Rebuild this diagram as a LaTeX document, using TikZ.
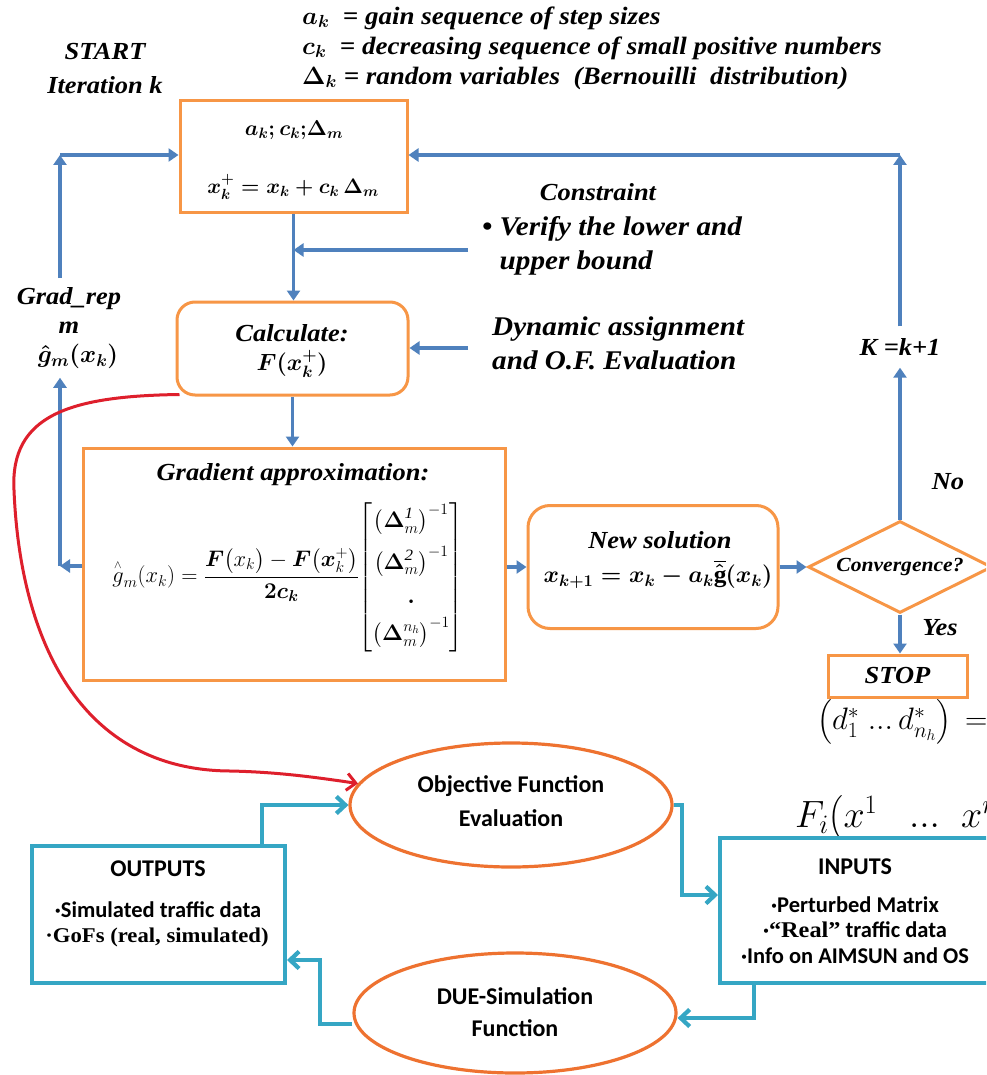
\RequirePackage{fix-cm}
\documentclass[tikz,border=0pt]{standalone}
\usepackage{amsmath,bm}
\usepackage{fontspec}
\setmainfont[FakeStretch=1.08]{Liberation Serif}
\newfontfamily\calib{Carlito}
\usetikzlibrary{arrows.meta,shapes.geometric}
\definecolor{myorange}{HTML}{F79646}
\definecolor{ellorange}{HTML}{EE7230}
\definecolor{myblue}{HTML}{4F81BD}
\definecolor{myteal}{HTML}{35A6C4}
\definecolor{myred}{HTML}{DE1F2C}
\tikzset{
  lab/.style={font=\bfseries\itshape\boldmath\fontsize{24.5}{28}\selectfont, inner sep=0pt},
  biglab/.style={font=\bfseries\itshape\boldmath\fontsize{27}{31}\selectfont, inner sep=0pt},
  toptext/.style={font=\bfseries\itshape\boldmath\fontsize{25}{29}\selectfont, inner sep=0pt, anchor=west},
  mathlab/.style={font=\boldmath\fontsize{23}{27}\selectfont, inner sep=0pt},
  orect/.style={draw=myorange, line width=3pt},
  cal/.style={font=\calib\bfseries\fontsize{24}{28}\selectfont, inner sep=0pt},
  calsm/.style={font=\calib\bfseries\fontsize{22.5}{25.5}\selectfont, inner sep=0pt},
  tbox/.style={draw=myteal, line width=4pt},
  ell/.style={ellipse, draw=ellorange, line width=3.2pt, inner sep=0pt},
  barrow/.style={draw=myblue, line width=3.4pt, -{Triangle[width=13pt,length=10pt]}},
  tarrow/.style={draw=myteal, line width=4.2pt, -{Straight Barb[width=17pt,length=9pt]}},
  rarrow/.style={draw=myred, line width=3pt, -{Straight Barb[width=17pt,length=9pt]}},
}
\begin{document}
\begin{tikzpicture}[x=1pt,y=-1pt]
\clip (0,0) rectangle (986,1075);
\fill[white] (0,0) rectangle (986,1075);

% top texts
\node[toptext] (t1) at (302,18) {$a_k$\ \ = gain sequence of step sizes};
\node[toptext] (t2) at (302,48) {$c_k$\ \ = decreasing sequence of small positive numbers};
\node[toptext] (t3) at (302,78) {$\Delta_k$ = random variables\ \ (Bernouilli\ \ distribution)};
\node[lab] (start) at (105,52) {START};
\node[lab] (iter) at (105,85) {Iteration k};

% init box
\node[orect, minimum width=227, minimum height=112] (init) at (293.5,157) {};
\node[mathlab, font=\boldmath\fontsize{21.5}{25}\selectfont] (initA) at (294,130) {$a_k;c_k;\!\Delta_m$};
\node[mathlab, font=\boldmath\fontsize{21}{25}\selectfont] (initB) at (293,187) {$x_k^+ = x_k + c_k\,\Delta_m$};

% constraint
\node[lab] (cons) at (598,192) {Constraint};
\node[biglab, anchor=west, align=left] (verify) at (482,246) {\textbullet\ Verify the lower and\\[3pt]\hphantom{\textbullet\ }upper bound};

% calculate
\node[orect, rounded corners=18, minimum width=231, minimum height=93] (calc) at (292.5,348.5) {};
\node[lab] (calcA) at (292,333) {Calculate:};
\node[mathlab, font=\boldmath\fontsize{23.5}{27}\selectfont] (calcB) at (292,364) {$F(x_k^+)$};
\node[biglab, anchor=west, align=left] (dyn) at (492,343) {Dynamic assignment\\[3pt]and O.F. Evaluation};

% grad label
\node[lab, align=center, inner sep=9pt] (grl) at (69,328) {Grad\_rep\\[1pt]m\\[1pt]\hspace*{18pt}$\hat{g}_m(x_k)$};

% gradient box
\node[orect, minimum width=422, minimum height=232] (grad) at (294,564) {};
\node[lab] (gtitle) at (293,475) {Gradient approximation:};
\node[font=\fontsize{22.5}{28}\selectfont, inner sep=0pt] (gform) at (288,577) {$\displaystyle \overset{\scriptscriptstyle\wedge}{g}_{m}(x_k) = \frac{\bm{F}\big(x_k\big) - \bm{F}\big(\bm{x}_k^+\big)}{\bm{2c_k}}\!\left[\begin{matrix} \big(\bm{\Delta}_m^{\mathit{1}}\big)^{-1}\\[10pt] \big(\bm{\Delta}_m^{\mathit{2}}\big)^{-1}\\[6pt] \bm{.}\\[6pt] \big(\bm{\Delta}_m^{n_h}\big)^{-1}\end{matrix}\right]$};

% new solution
\node[orect, rounded corners=22, minimum width=250, minimum height=123] (newsol) at (653,567) {};
\node[lab] (nsA) at (660,540) {New solution};
\node[mathlab, font=\boldmath\fontsize{23.5}{28}\selectfont] (nsB) at (658,574) {$x_{k+1} = x_k - a_k\overline{\hat{\mathrm{g}}}(x_k)$};

% convergence
\node[diamond, draw=myorange, line width=3pt, shape aspect=2, minimum width=184, minimum height=92, inner sep=0pt, font=\bfseries\itshape\fontsize{20}{24}\selectfont] (conv) at (900,567) {Convergence?};
\node[lab, inner sep=12pt] (kk) at (900,347) {K =k+1};
\node[lab] (no) at (948,482) {No};
\node[lab] (yes) at (940,628) {Yes};
\node[orect, minimum width=139, minimum height=42, font=\bfseries\itshape\fontsize{24.5}{28}\selectfont] (stop) at (897.5,676) {STOP};
\node[font=\fontsize{31}{35}\selectfont, inner sep=0pt, anchor=west] (dstar) at (817,722) {$\left(d_1^*\;...\,d_{n_h}^*\right)\, =$};
\node[font=\fontsize{38}{42}\selectfont, inner sep=0pt, anchor=west] (fi) at (795,818) {$F_i\big(x^{1}\;\;\;...\;\;x^{n_h}\big)$};

% lower part
\node[ell, minimum width=322, minimum height=124] (obj) at (511,805) {};
\node[cal] (objA) at (511,786) {Objective Function};
\node[cal] (objB) at (511,818) {Evaluation};
\node[ell, minimum width=322, minimum height=120] (due) at (515,1013) {};
\node[cal] (dueA) at (515,996) {DUE-Simulation};
\node[cal] (dueB) at (515,1028) {Function};

\node[tbox, minimum width=275, minimum height=145, fill=white] (inp) at (857.5,910.5) {};
\node[cal] (inpA) at (855,867) {INPUTS};
\node[calsm, align=center] (inpB) at (855,930) {·Perturbed Matrix\\·{\rmfamily\bfseries “Real”} traffic data\\·Info on AIMSUN and OS};

\node[tbox, minimum width=253, minimum height=137] (outp) at (158.5,914.5) {};
\node[cal] (outA) at (158,869) {OUTPUTS};
\node[calsm] (outB) at (158,910) {·Simulated traffic data};
\node[font=\bfseries\fontsize{21}{25}\selectfont, inner sep=0pt] (outC) at (157,937) {·GoFs (real,\ simulated)};

% blue connectors
\coordinate (tl) at (60,155);
\draw[barrow] (tl |- grl.north) -- (tl);
\draw[barrow] (tl) -- (tl -| init.west);
\coordinate (tr) at (900,155);
\draw[barrow] (tr |- kk.north) -- (tr);
\draw[barrow] (tr) -- (tr -| init.east);
\draw[barrow] (conv.north) -- (conv.north |- kk.south);
\draw[barrow] (init.south) -- (init.south |- calc.north);
\coordinate (cn) at (468,250);
\draw[barrow] (cn) -- (cn -| init.south);
\coordinate (dn) at (468,348);
\draw[barrow] (dn) -- (dn -| calc.east);
\draw[barrow] (calc.south) -- (calc.south |- grad.north);
\coordinate (gk) at (60,566);
\draw[barrow] (gk -| grad.west) -- (gk);
\draw[barrow] (gk) -- (gk |- grl.south);
\coordinate (gn) at (505,567);
\draw[barrow] (gn -| grad.east) -- (gn -| newsol.west);
\draw[barrow] (newsol.east) -- (conv.west);
\draw[barrow] (conv.south) -- (conv.south |- stop.north);

% red curve
\draw[rarrow] ([xshift=4pt,yshift=2pt]calc.south west) .. controls (70,396) and (10,415) .. (14,490)
  .. controls (20,640) and (80,770) .. (230,771) .. controls (280,772) and (320,778) .. (obj.172);

% teal connectors
\draw[tarrow] ([xshift=103.5pt]outp.north) |- (obj.west);
\coordinate (ia) at (682,895);
\draw[tarrow] (obj.east) -| (ia) -- (ia -| inp.west);
\coordinate (ib) at (754,1018);
\draw[tarrow] (ib |- inp.south) -- (ib) -- (ib -| due.east);
\coordinate (oa) at (320,1024);
\coordinate (ob) at (320,960);
\draw[tarrow] (oa -| due.west) -- (oa) -- (ob) -- (ob -| outp.east);
\end{tikzpicture}
\end{document}
